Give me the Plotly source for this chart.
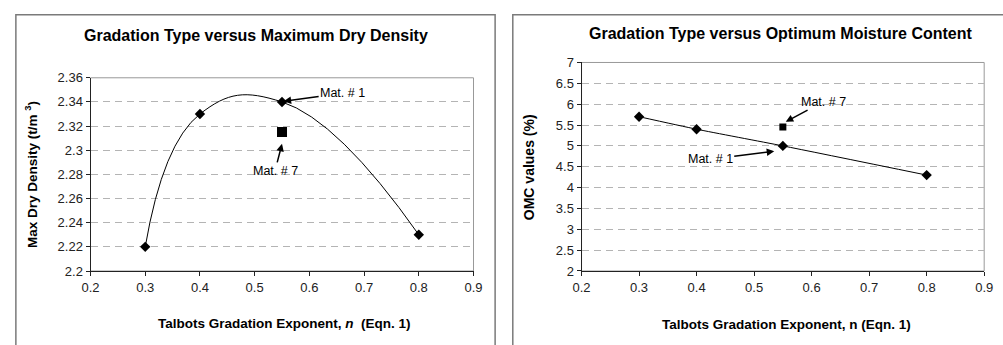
import plotly.graph_objects as go

# ---- data ----
n_values = [0.3, 0.4, 0.55, 0.8]
mdd_values = [2.22, 2.33, 2.34, 2.23]
omc_values = [5.7, 5.4, 5.0, 4.3]
mat7_n = [0.55]
mat7_mdd = [2.315]
mat7_omc = [5.45]

x_ticks = [0.2, 0.3, 0.4, 0.5, 0.6, 0.7, 0.8, 0.9]
left_y_ticks = [2.2, 2.22, 2.24, 2.26, 2.28, 2.3, 2.32, 2.34, 2.36]
right_y_ticks = [2, 2.5, 3, 3.5, 4, 4.5, 5, 5.5, 6, 6.5, 7]

W, H = 1003, 345
FONT = "Liberation Sans, Arial, sans-serif"


def px(x):
    return x / W


def py(y):
    return 1 - y / H


fig = go.Figure()

# left panel
fig.add_trace(go.Scatter(x=n_values, y=mdd_values, mode="lines+markers",
                         line=dict(color="#000", width=1, shape="spline", smoothing=1.3),
                         marker=dict(symbol="diamond", size=8, color="#000"),
                         xaxis="x", yaxis="y", showlegend=False))
fig.add_trace(go.Scatter(x=mat7_n, y=mat7_mdd, mode="markers",
                         marker=dict(symbol="square", size=10, color="#000"),
                         xaxis="x", yaxis="y", showlegend=False))
# right panel
fig.add_trace(go.Scatter(x=n_values, y=omc_values, mode="lines+markers",
                         line=dict(color="#000", width=1, shape="spline", smoothing=0.6),
                         marker=dict(symbol="diamond", size=8, color="#000"),
                         xaxis="x2", yaxis="y2", showlegend=False))
fig.add_trace(go.Scatter(x=mat7_n, y=mat7_omc, mode="markers",
                         marker=dict(symbol="square", size=7, color="#000"),
                         xaxis="x2", yaxis="y2", showlegend=False))

axis_common = dict(showline=True, linecolor="#222", linewidth=1, ticks="outside",
                   ticklen=4, tickcolor="#222", tickfont=dict(family=FONT, size=13, color="#222"),
                   zeroline=False)
grid = dict(showgrid=True, gridcolor="#b4b4b4", griddash="7px,5px", gridwidth=1)

fig.update_layout(
    width=W, height=H, margin=dict(l=0, r=0, t=0, b=0),
    paper_bgcolor="white", plot_bgcolor="white",
    xaxis=dict(domain=[px(83), px(473)], range=[0.2, 0.9], tickvals=x_ticks,
               ticktext=[str(v) for v in x_ticks], showgrid=False, anchor="y", **axis_common),
    yaxis=dict(domain=[py(276), py(74)], range=[2.2, 2.36], tickvals=left_y_ticks,
               ticktext=[f"{v:g}" for v in left_y_ticks], anchor="x", **grid, **axis_common),
    xaxis2=dict(domain=[px(583), px(993)], range=[0.2, 0.9], tickvals=x_ticks,
                ticktext=[str(v) for v in x_ticks], showgrid=False, anchor="y2", **axis_common),
    yaxis2=dict(domain=[py(276), py(58)], range=[2, 7], tickvals=right_y_ticks,
                ticktext=[f"{v:g}" for v in right_y_ticks], anchor="x2", **grid, **axis_common),
)

shapes = [
    # outer frames
    dict(type="rect", xref="paper", yref="paper", x0=px(7), x1=px(495), y0=-0.2, y1=py(8),
         line=dict(color="#7a7a7a", width=1.5), layer="below"),
    dict(type="rect", xref="paper", yref="paper", x0=px(513), x1=1.2, y0=-0.2, y1=py(8),
         line=dict(color="#7a7a7a", width=1.5), layer="below"),
    # plot area borders (gray top/right)
    dict(type="rect", xref="paper", yref="paper", x0=px(83), x1=px(473), y0=py(276), y1=py(74),
         line=dict(color="#999", width=1), layer="below"),
    dict(type="rect", xref="paper", yref="paper", x0=px(583), x1=px(993), y0=py(276), y1=py(58),
         line=dict(color="#999", width=1), layer="below"),
]
fig.update_layout(shapes=shapes)


def paper_text(text, x, y, size, angle=0):
    return dict(text=text, x=px(x), y=py(y), xref="paper", yref="paper",
                xanchor="center", yanchor="middle", textangle=angle, showarrow=False,
                font=dict(family=FONT, size=size, color="#000"))


ann = [
    paper_text("<b>Gradation Type versus Maximum Dry Density</b>", 252, 30, 16),
    paper_text("<b>Gradation Type versus Optimum Moisture Content</b>", 786, 28, 16),
    paper_text("<b>Talbots Gradation Exponent, <i>n</i>  (Eqn. 1)</b>", 281, 331, 13.5),
    paper_text("<b>Talbots Gradation Exponent, n (Eqn. 1)</b>", 792, 332, 13.5),
    paper_text("<b>Max Dry Density (t/m <sup>3</sup>)</b>", 23, 175, 13.5, -90),
    paper_text("<b>OMC values (%)</b>", 529, 168, 14, -90),
]

lab_font = dict(family=FONT, size=12.5, color="#000")


def arrow_label(text, x, y, xr, yr, ax, ay):
    return dict(text=text, x=x, y=y, xref=xr, yref=yr, ax=ax, ay=ay,
                showarrow=True, arrowhead=2, arrowsize=1, arrowwidth=1.5,
                arrowcolor="#000", font=lab_font, standoff=0)


ann += [
    arrow_label("Mat. # 1", 0.553, 2.3405, "x", "y", 59, -8),
    arrow_label("Mat. # 7", 0.55, 2.3053, "x", "y", -7, 27),
    arrow_label("Mat. # 1", 0.535, 4.87, "x2", "y2", -64, 8),
    arrow_label("Mat. # 7", 0.555, 5.58, "x2", "y2", 38, -20),
]

fig.update_layout(annotations=ann)
fig.write_html(
    "out.html",
    config={"displayModeBar": False},
    post_script="document.documentElement.style.overflow='hidden';"
                "document.body.style.margin='0';document.body.style.overflow='hidden';",
)
